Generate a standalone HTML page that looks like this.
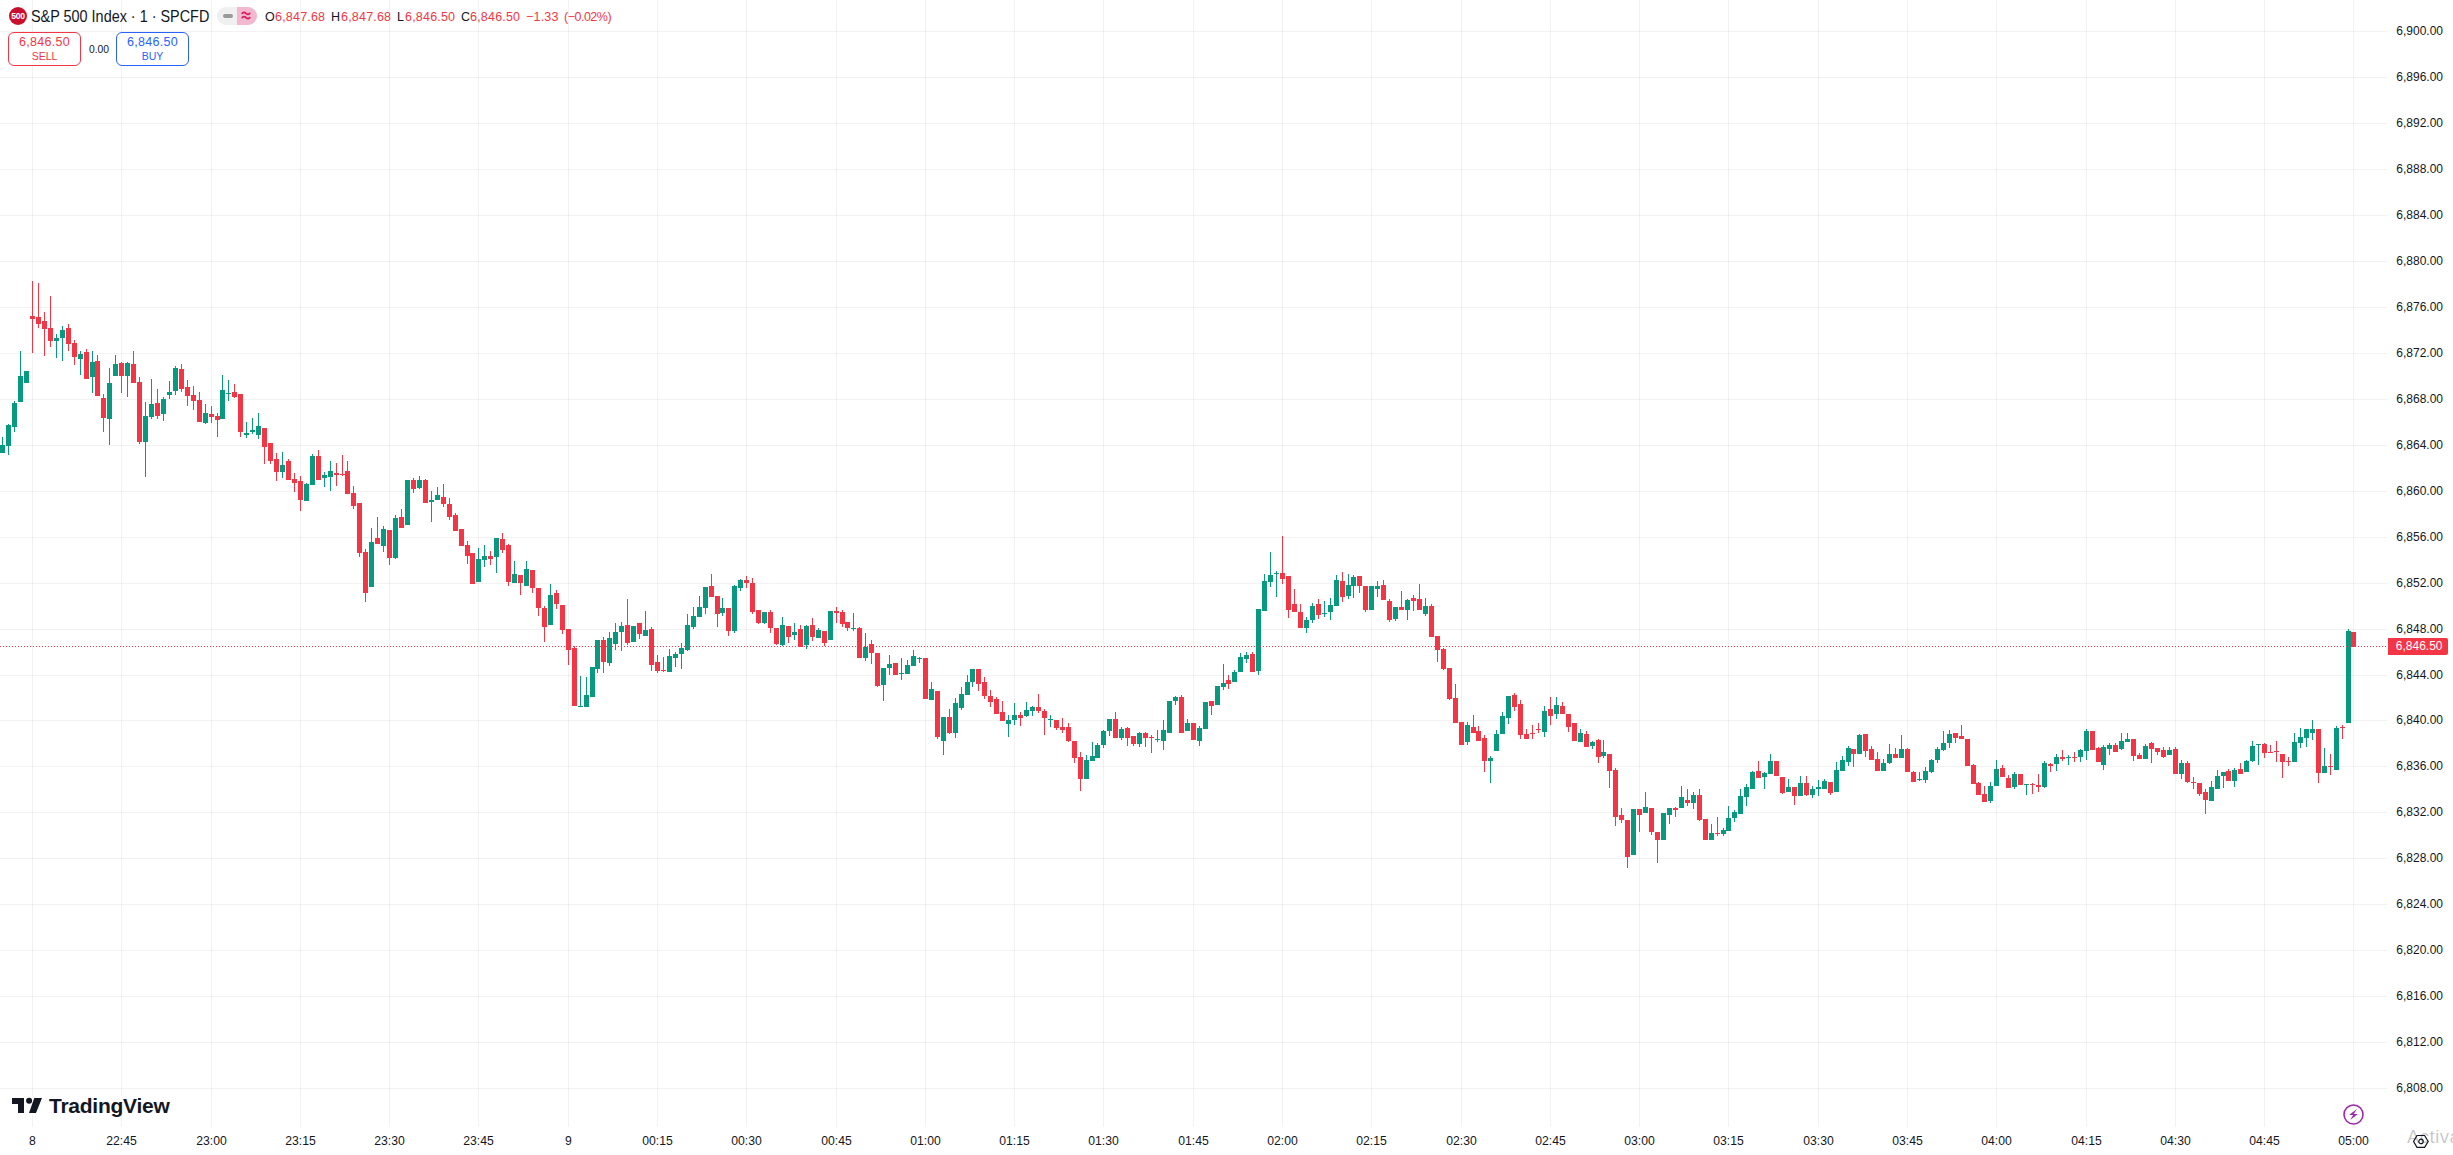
<!DOCTYPE html>
<html><head><meta charset="utf-8"><style>
html,body{margin:0;padding:0;background:#fff;width:2453px;height:1155px;overflow:hidden;position:relative;font-family:"Liberation Sans",sans-serif;color:#131722}
.pl{position:absolute;left:2381px;width:62px;text-align:right;font-size:12px;line-height:16px;color:#131722}
.tl{position:absolute;top:1133px;width:60px;text-align:center;font-size:12.2px;line-height:16px;color:#131722}
.hd{position:absolute;white-space:nowrap}
.oh{top:9px;font-size:12.5px;line-height:16px;color:#131722;letter-spacing:0.2px}
.r{color:#f23645}
</style></head><body>
<svg width="2453" height="1155" shape-rendering="crispEdges" style="position:absolute;left:0;top:0"><g fill="#000" fill-opacity="0.05"><rect x="0" y="31" width="2387" height="1"/><rect x="0" y="77" width="2387" height="1"/><rect x="0" y="123" width="2387" height="1"/><rect x="0" y="169" width="2387" height="1"/><rect x="0" y="215" width="2387" height="1"/><rect x="0" y="261" width="2387" height="1"/><rect x="0" y="307" width="2387" height="1"/><rect x="0" y="353" width="2387" height="1"/><rect x="0" y="399" width="2387" height="1"/><rect x="0" y="445" width="2387" height="1"/><rect x="0" y="491" width="2387" height="1"/><rect x="0" y="537" width="2387" height="1"/><rect x="0" y="583" width="2387" height="1"/><rect x="0" y="629" width="2387" height="1"/><rect x="0" y="675" width="2387" height="1"/><rect x="0" y="720" width="2387" height="1"/><rect x="0" y="766" width="2387" height="1"/><rect x="0" y="812" width="2387" height="1"/><rect x="0" y="858" width="2387" height="1"/><rect x="0" y="904" width="2387" height="1"/><rect x="0" y="950" width="2387" height="1"/><rect x="0" y="996" width="2387" height="1"/><rect x="0" y="1042" width="2387" height="1"/><rect x="0" y="1088" width="2387" height="1"/><rect x="32" y="0" width="1" height="1127"/><rect x="121" y="0" width="1" height="1127"/><rect x="211" y="0" width="1" height="1127"/><rect x="300" y="0" width="1" height="1127"/><rect x="389" y="0" width="1" height="1127"/><rect x="478" y="0" width="1" height="1127"/><rect x="568" y="0" width="1" height="1127"/><rect x="657" y="0" width="1" height="1127"/><rect x="746" y="0" width="1" height="1127"/><rect x="836" y="0" width="1" height="1127"/><rect x="925" y="0" width="1" height="1127"/><rect x="1014" y="0" width="1" height="1127"/><rect x="1103" y="0" width="1" height="1127"/><rect x="1193" y="0" width="1" height="1127"/><rect x="1282" y="0" width="1" height="1127"/><rect x="1371" y="0" width="1" height="1127"/><rect x="1461" y="0" width="1" height="1127"/><rect x="1550" y="0" width="1" height="1127"/><rect x="1639" y="0" width="1" height="1127"/><rect x="1728" y="0" width="1" height="1127"/><rect x="1818" y="0" width="1" height="1127"/><rect x="1907" y="0" width="1" height="1127"/><rect x="1996" y="0" width="1" height="1127"/><rect x="2086" y="0" width="1" height="1127"/><rect x="2175" y="0" width="1" height="1127"/><rect x="2264" y="0" width="1" height="1127"/><rect x="2353" y="0" width="1" height="1127"/></g><path fill="#089981" d="M0 445h5v8h-5zM2 437h1v16h-1zM6 425h5v21h-5zM8 424h1v31h-1zM12 403h5v24h-5zM14 401h1v31h-1zM18 376h5v26h-5zM20 351h1v51h-1zM24 371h5v12h-5zM54 338h5v3h-5zM56 334h1v24h-1zM60 330h5v8h-5zM62 326h1v35h-1zM78 354h5v5h-5zM80 351h1v24h-1zM90 362h5v15h-5zM92 351h1v42h-1zM107 383h5v36h-5zM109 368h1v77h-1zM113 364h5v12h-5zM115 355h1v21h-1zM125 363h5v13h-5zM127 362h1v35h-1zM143 416h5v26h-5zM145 402h1v75h-1zM149 404h5v13h-5zM151 379h1v40h-1zM161 399h5v15h-5zM163 397h1v24h-1zM167 392h5v3h-5zM169 381h1v18h-1zM173 368h5v23h-5zM175 366h1v29h-1zM203 413h5v10h-5zM205 404h1v20h-1zM220 390h5v29h-5zM222 375h1v44h-1zM226 393h5v1h-5zM228 380h1v21h-1zM244 433h5v2h-5zM246 422h1v16h-1zM250 430h5v2h-5zM252 418h1v16h-1zM256 426h5v9h-5zM258 413h1v26h-1zM280 465h5v7h-5zM282 452h1v26h-1zM304 484h5v17h-5zM306 483h1v18h-1zM310 456h5v29h-5zM312 454h1v31h-1zM322 475h5v3h-5zM324 472h1v15h-1zM328 471h5v6h-5zM330 461h1v30h-1zM369 542h5v45h-5zM371 528h1v59h-1zM381 529h5v17h-5zM383 526h1v26h-1zM393 518h5v40h-5zM395 515h1v44h-1zM405 480h5v45h-5zM417 480h5v8h-5zM419 476h1v13h-1zM429 500h5v2h-5zM431 491h1v31h-1zM435 495h5v5h-5zM437 487h1v13h-1zM476 559h5v23h-5zM478 548h1v34h-1zM482 556h5v4h-5zM484 545h1v22h-1zM494 538h5v19h-5zM496 538h1v35h-1zM512 574h5v9h-5zM514 561h1v22h-1zM524 569h5v17h-5zM526 561h1v25h-1zM548 595h5v30h-5zM550 584h1v41h-1zM578 706h5v1h-5zM580 676h1v31h-1zM584 695h5v12h-5zM586 677h1v30h-1zM590 667h5v30h-5zM595 640h5v29h-5zM597 640h1v33h-1zM607 638h5v25h-5zM609 632h1v34h-1zM613 632h5v12h-5zM615 623h1v27h-1zM619 626h5v6h-5zM621 622h1v29h-1zM631 626h5v16h-5zM643 630h5v6h-5zM645 611h1v25h-1zM667 656h5v16h-5zM669 649h1v23h-1zM673 654h5v4h-5zM675 652h1v15h-1zM679 648h5v6h-5zM681 643h1v26h-1zM685 625h5v25h-5zM687 614h1v37h-1zM691 616h5v11h-5zM693 607h1v22h-1zM697 607h5v10h-5zM699 596h1v21h-1zM703 587h5v21h-5zM705 587h1v27h-1zM720 608h5v5h-5zM722 598h1v18h-1zM732 586h5v45h-5zM734 585h1v48h-1zM738 580h5v8h-5zM740 579h1v12h-1zM762 612h5v11h-5zM764 612h1v12h-1zM780 625h5v20h-5zM782 617h1v29h-1zM792 632h5v3h-5zM794 623h1v17h-1zM804 626h5v19h-5zM806 625h1v24h-1zM816 630h5v8h-5zM818 628h1v10h-1zM828 611h5v29h-5zM851 628h5v1h-5zM853 613h1v18h-1zM863 647h5v11h-5zM865 633h1v28h-1zM881 668h5v17h-5zM883 668h1v33h-1zM887 664h5v4h-5zM889 655h1v20h-1zM899 673h5v1h-5zM901 658h1v22h-1zM905 665h5v9h-5zM907 660h1v14h-1zM911 656h5v10h-5zM913 650h1v16h-1zM917 658h5v1h-5zM919 657h1v6h-1zM929 689h5v11h-5zM931 682h1v18h-1zM941 717h5v24h-5zM943 717h1v38h-1zM953 703h5v30h-5zM955 698h1v40h-1zM959 694h5v14h-5zM961 687h1v23h-1zM965 682h5v13h-5zM967 675h1v20h-1zM970 669h5v13h-5zM972 669h1v18h-1zM1006 720h5v4h-5zM1008 715h1v22h-1zM1012 715h5v5h-5zM1014 703h1v22h-1zM1024 710h5v6h-5zM1026 702h1v15h-1zM1030 707h5v4h-5zM1032 706h1v10h-1zM1048 719h5v1h-5zM1050 715h1v12h-1zM1084 760h5v19h-5zM1086 755h1v24h-1zM1090 756h5v5h-5zM1092 742h1v19h-1zM1095 745h5v13h-5zM1097 743h1v15h-1zM1101 731h5v14h-5zM1103 730h1v18h-1zM1107 719h5v12h-5zM1109 719h1v17h-1zM1119 729h5v9h-5zM1121 727h1v13h-1zM1137 733h5v11h-5zM1139 732h1v15h-1zM1155 739h5v1h-5zM1157 730h1v12h-1zM1161 730h5v11h-5zM1163 720h1v30h-1zM1167 701h5v32h-5zM1173 697h5v4h-5zM1175 696h1v9h-1zM1185 723h5v8h-5zM1187 719h1v12h-1zM1197 728h5v13h-5zM1199 726h1v20h-1zM1203 702h5v27h-5zM1215 686h5v19h-5zM1221 683h5v4h-5zM1223 664h1v26h-1zM1232 672h5v10h-5zM1234 670h1v12h-1zM1238 657h5v15h-5zM1240 653h1v19h-1zM1244 655h5v4h-5zM1246 652h1v11h-1zM1256 609h5v62h-5zM1258 609h1v66h-1zM1262 581h5v30h-5zM1264 574h1v37h-1zM1268 575h5v7h-5zM1270 552h1v35h-1zM1274 573h5v1h-5zM1276 571h1v26h-1zM1304 620h5v8h-5zM1306 617h1v16h-1zM1310 606h5v14h-5zM1312 603h1v20h-1zM1322 613h5v1h-5zM1324 601h1v16h-1zM1328 605h5v7h-5zM1330 598h1v22h-1zM1334 580h5v26h-5zM1336 575h1v31h-1zM1346 585h5v11h-5zM1348 574h1v25h-1zM1351 577h5v9h-5zM1353 575h1v23h-1zM1369 586h5v24h-5zM1375 586h5v3h-5zM1377 581h1v16h-1zM1393 607h5v12h-5zM1395 607h1v14h-1zM1405 600h5v10h-5zM1407 599h1v21h-1zM1423 606h5v8h-5zM1425 598h1v18h-1zM1465 725h5v17h-5zM1467 722h1v23h-1zM1488 758h5v3h-5zM1490 756h1v27h-1zM1494 734h5v17h-5zM1496 730h1v21h-1zM1500 716h5v18h-5zM1502 712h1v22h-1zM1506 696h5v22h-5zM1508 696h1v28h-1zM1542 711h5v21h-5zM1544 706h1v31h-1zM1554 705h5v9h-5zM1556 697h1v22h-1zM1578 733h5v9h-5zM1580 729h1v13h-1zM1590 742h5v4h-5zM1592 741h1v8h-1zM1601 752h5v4h-5zM1603 740h1v18h-1zM1631 809h5v46h-5zM1643 807h5v6h-5zM1645 792h1v21h-1zM1661 813h5v27h-5zM1667 808h5v7h-5zM1669 808h1v16h-1zM1679 797h5v11h-5zM1681 786h1v22h-1zM1691 795h5v8h-5zM1693 792h1v17h-1zM1709 833h5v7h-5zM1711 824h1v16h-1zM1721 830h5v4h-5zM1723 828h1v8h-1zM1726 818h5v13h-5zM1728 806h1v25h-1zM1732 812h5v6h-5zM1734 810h1v12h-1zM1738 796h5v18h-5zM1740 789h1v25h-1zM1744 787h5v10h-5zM1746 784h1v22h-1zM1750 772h5v17h-5zM1752 771h1v18h-1zM1762 773h5v4h-5zM1764 772h1v17h-1zM1768 761h5v13h-5zM1770 754h1v20h-1zM1786 787h5v5h-5zM1788 779h1v13h-1zM1798 783h5v13h-5zM1800 776h1v20h-1zM1810 789h5v6h-5zM1812 786h1v12h-1zM1816 787h5v2h-5zM1818 780h1v16h-1zM1822 781h5v8h-5zM1824 779h1v10h-1zM1834 770h5v22h-5zM1836 762h1v30h-1zM1840 760h5v11h-5zM1842 756h1v15h-1zM1846 748h5v14h-5zM1848 746h1v20h-1zM1857 735h5v19h-5zM1859 734h1v20h-1zM1881 763h5v8h-5zM1883 759h1v12h-1zM1887 754h5v9h-5zM1889 744h1v20h-1zM1899 749h5v9h-5zM1901 735h1v23h-1zM1917 779h5v1h-5zM1919 772h1v9h-1zM1923 771h5v9h-5zM1925 767h1v16h-1zM1929 760h5v12h-5zM1931 759h1v14h-1zM1935 749h5v11h-5zM1937 747h1v16h-1zM1941 743h5v7h-5zM1943 731h1v20h-1zM1947 734h5v9h-5zM1949 730h1v18h-1zM1988 786h5v15h-5zM1990 782h1v21h-1zM1994 769h5v17h-5zM1996 760h1v26h-1zM2012 774h5v13h-5zM2014 772h1v17h-1zM2024 784h5v1h-5zM2026 784h1v11h-1zM2042 763h5v24h-5zM2044 761h1v27h-1zM2054 757h5v7h-5zM2056 754h1v17h-1zM2066 757h5v1h-5zM2068 755h1v10h-1zM2078 750h5v7h-5zM2080 749h1v13h-1zM2084 731h5v20h-5zM2086 729h1v31h-1zM2101 747h5v18h-5zM2103 745h1v25h-1zM2107 745h5v4h-5zM2109 743h1v12h-1zM2119 741h5v8h-5zM2121 733h1v17h-1zM2125 739h5v3h-5zM2127 733h1v9h-1zM2143 746h5v13h-5zM2145 744h1v15h-1zM2167 750h5v5h-5zM2169 747h1v8h-1zM2179 763h5v11h-5zM2181 760h1v19h-1zM2209 787h5v14h-5zM2211 781h1v20h-1zM2215 776h5v13h-5zM2217 770h1v19h-1zM2221 772h5v4h-5zM2223 772h1v16h-1zM2232 770h5v11h-5zM2234 768h1v19h-1zM2244 761h5v11h-5zM2246 760h1v12h-1zM2250 746h5v15h-5zM2252 741h1v21h-1zM2256 744h5v1h-5zM2258 744h1v21h-1zM2292 742h5v20h-5zM2294 733h1v29h-1zM2298 737h5v6h-5zM2300 728h1v20h-1zM2304 729h5v9h-5zM2306 729h1v18h-1zM2310 729h5v4h-5zM2312 720h1v20h-1zM2322 766h5v7h-5zM2324 748h1v25h-1zM2334 728h5v42h-5zM2336 726h1v44h-1zM2346 631h5v92h-5zM2348 629h1v94h-1z"/><path fill="#f23645" d="M30 316h5v3h-5zM32 281h1v72h-1zM36 317h5v7h-5zM38 283h1v45h-1zM42 321h5v8h-5zM44 312h1v44h-1zM48 328h5v13h-5zM50 296h1v51h-1zM66 328h5v16h-5zM68 324h1v27h-1zM72 343h5v14h-5zM74 340h1v25h-1zM84 352h5v27h-5zM86 349h1v30h-1zM95 361h5v35h-5zM97 355h1v41h-1zM101 398h5v20h-5zM103 394h1v38h-1zM119 363h5v13h-5zM121 362h1v31h-1zM131 364h5v19h-5zM133 351h1v32h-1zM137 382h5v60h-5zM139 377h1v67h-1zM155 403h5v13h-5zM157 389h1v30h-1zM179 369h5v20h-5zM181 364h1v28h-1zM185 387h5v9h-5zM187 380h1v26h-1zM191 395h5v6h-5zM193 386h1v24h-1zM197 400h5v22h-5zM199 392h1v30h-1zM209 414h5v3h-5zM211 406h1v17h-1zM215 416h5v4h-5zM217 413h1v24h-1zM232 392h5v5h-5zM234 384h1v14h-1zM238 394h5v38h-5zM240 394h1v43h-1zM262 428h5v19h-5zM264 428h1v36h-1zM268 443h5v18h-5zM270 443h1v21h-1zM274 459h5v13h-5zM276 453h1v28h-1zM286 461h5v19h-5zM288 459h1v21h-1zM292 479h5v4h-5zM294 473h1v19h-1zM298 481h5v19h-5zM300 476h1v35h-1zM316 456h5v24h-5zM318 450h1v30h-1zM334 473h5v2h-5zM336 463h1v23h-1zM340 474h5v1h-5zM342 455h1v21h-1zM345 471h5v23h-5zM347 461h1v33h-1zM351 493h5v13h-5zM353 486h1v23h-1zM357 503h5v50h-5zM359 503h1v54h-1zM363 552h5v41h-5zM365 549h1v53h-1zM375 538h5v6h-5zM377 517h1v27h-1zM387 530h5v28h-5zM389 530h1v35h-1zM399 517h5v11h-5zM401 509h1v19h-1zM411 480h5v9h-5zM413 478h1v15h-1zM423 480h5v23h-5zM425 479h1v24h-1zM441 497h5v7h-5zM443 484h1v23h-1zM447 504h5v13h-5zM449 498h1v22h-1zM453 515h5v16h-5zM455 513h1v18h-1zM459 529h5v17h-5zM465 545h5v11h-5zM467 541h1v23h-1zM470 553h5v31h-5zM488 556h5v3h-5zM490 551h1v14h-1zM500 539h5v11h-5zM502 533h1v20h-1zM506 545h5v37h-5zM508 544h1v42h-1zM518 575h5v8h-5zM520 575h1v20h-1zM530 570h5v18h-5zM532 570h1v23h-1zM536 588h5v20h-5zM538 588h1v28h-1zM542 608h5v19h-5zM544 606h1v36h-1zM554 593h5v11h-5zM556 590h1v19h-1zM560 605h5v25h-5zM562 605h1v29h-1zM566 629h5v21h-5zM568 629h1v36h-1zM572 648h5v58h-5zM574 646h1v60h-1zM601 640h5v22h-5zM603 637h1v36h-1zM625 625h5v18h-5zM627 599h1v46h-1zM637 623h5v11h-5zM639 623h1v16h-1zM649 629h5v36h-5zM651 627h1v44h-1zM655 662h5v9h-5zM657 655h1v18h-1zM661 670h5v1h-5zM663 657h1v15h-1zM709 586h5v11h-5zM711 574h1v23h-1zM715 596h5v18h-5zM717 596h1v31h-1zM726 608h5v23h-5zM728 608h1v28h-1zM744 580h5v3h-5zM746 576h1v12h-1zM750 583h5v29h-5zM752 578h1v36h-1zM756 610h5v13h-5zM758 610h1v14h-1zM768 612h5v16h-5zM770 610h1v23h-1zM774 628h5v16h-5zM776 628h1v17h-1zM786 626h5v11h-5zM788 626h1v17h-1zM798 629h5v18h-5zM800 625h1v22h-1zM810 625h5v12h-5zM812 618h1v23h-1zM822 631h5v12h-5zM824 631h1v15h-1zM834 611h5v2h-5zM836 607h1v16h-1zM840 612h5v12h-5zM842 610h1v17h-1zM845 622h5v6h-5zM847 622h1v9h-1zM857 628h5v30h-5zM859 627h1v31h-1zM869 644h5v9h-5zM871 640h1v24h-1zM875 653h5v33h-5zM877 653h1v34h-1zM893 663h5v12h-5zM923 658h5v41h-5zM935 691h5v46h-5zM937 691h1v48h-1zM947 717h5v16h-5zM949 709h1v25h-1zM976 669h5v15h-5zM978 669h1v22h-1zM982 682h5v14h-5zM984 677h1v22h-1zM988 696h5v6h-5zM990 690h1v17h-1zM994 699h5v15h-5zM996 697h1v17h-1zM1000 712h5v9h-5zM1002 701h1v20h-1zM1018 715h5v3h-5zM1020 712h1v14h-1zM1036 707h5v4h-5zM1038 694h1v19h-1zM1042 711h5v7h-5zM1044 709h1v26h-1zM1054 720h5v8h-5zM1056 720h1v10h-1zM1060 727h5v3h-5zM1062 718h1v15h-1zM1066 727h5v14h-5zM1068 723h1v19h-1zM1072 741h5v17h-5zM1074 741h1v22h-1zM1078 757h5v22h-5zM1080 752h1v39h-1zM1113 719h5v19h-5zM1115 712h1v26h-1zM1125 728h5v10h-5zM1127 727h1v19h-1zM1131 736h5v8h-5zM1133 736h1v10h-1zM1143 733h5v5h-5zM1145 732h1v15h-1zM1149 737h5v1h-5zM1151 735h1v18h-1zM1179 697h5v36h-5zM1181 695h1v38h-1zM1191 723h5v17h-5zM1209 701h5v5h-5zM1211 701h1v14h-1zM1226 680h5v4h-5zM1228 675h1v14h-1zM1250 654h5v18h-5zM1252 652h1v20h-1zM1280 573h5v6h-5zM1282 536h1v48h-1zM1286 576h5v34h-5zM1288 576h1v42h-1zM1292 604h5v8h-5zM1294 589h1v23h-1zM1298 612h5v16h-5zM1300 604h1v24h-1zM1316 604h5v11h-5zM1318 599h1v20h-1zM1340 581h5v16h-5zM1342 572h1v30h-1zM1357 576h5v10h-5zM1359 576h1v17h-1zM1363 586h5v24h-5zM1365 586h1v26h-1zM1381 585h5v15h-5zM1383 580h1v20h-1zM1387 601h5v19h-5zM1389 599h1v23h-1zM1399 607h5v3h-5zM1401 591h1v19h-1zM1411 598h5v3h-5zM1413 595h1v16h-1zM1417 599h5v11h-5zM1419 584h1v26h-1zM1429 606h5v31h-5zM1431 604h1v33h-1zM1435 636h5v14h-5zM1437 636h1v26h-1zM1441 649h5v20h-5zM1443 648h1v22h-1zM1447 668h5v31h-5zM1449 668h1v32h-1zM1453 698h5v25h-5zM1455 684h1v39h-1zM1459 722h5v23h-5zM1471 727h5v6h-5zM1473 715h1v18h-1zM1476 731h5v10h-5zM1478 726h1v15h-1zM1482 738h5v23h-5zM1484 735h1v37h-1zM1512 695h5v12h-5zM1514 693h1v18h-1zM1518 704h5v31h-5zM1520 700h1v39h-1zM1524 734h5v5h-5zM1526 729h1v10h-1zM1530 733h5v1h-5zM1532 725h1v14h-1zM1536 729h5v1h-5zM1538 723h1v10h-1zM1548 709h5v7h-5zM1550 697h1v28h-1zM1560 706h5v8h-5zM1562 702h1v12h-1zM1566 714h5v13h-5zM1568 714h1v18h-1zM1572 723h5v18h-5zM1584 734h5v13h-5zM1586 731h1v16h-1zM1596 740h5v17h-5zM1598 739h1v24h-1zM1607 754h5v17h-5zM1609 754h1v34h-1zM1613 770h5v47h-5zM1615 768h1v58h-1zM1619 815h5v5h-5zM1621 808h1v15h-1zM1625 820h5v37h-5zM1627 820h1v48h-1zM1637 809h5v6h-5zM1639 809h1v23h-1zM1649 808h5v24h-5zM1651 808h1v27h-1zM1655 832h5v8h-5zM1657 832h1v31h-1zM1673 808h5v2h-5zM1675 807h1v10h-1zM1685 800h5v3h-5zM1687 789h1v17h-1zM1697 795h5v25h-5zM1699 789h1v32h-1zM1703 819h5v21h-5zM1715 833h5v1h-5zM1717 817h1v19h-1zM1756 771h5v7h-5zM1758 761h1v17h-1zM1774 761h5v15h-5zM1780 777h5v16h-5zM1782 777h1v17h-1zM1792 787h5v9h-5zM1794 787h1v18h-1zM1804 783h5v12h-5zM1806 776h1v20h-1zM1828 782h5v11h-5zM1830 782h1v13h-1zM1851 749h5v5h-5zM1853 749h1v18h-1zM1863 734h5v17h-5zM1865 734h1v23h-1zM1869 749h5v11h-5zM1871 746h1v14h-1zM1875 759h5v12h-5zM1877 752h1v19h-1zM1893 754h5v4h-5zM1895 748h1v10h-1zM1905 749h5v23h-5zM1907 748h1v24h-1zM1911 772h5v10h-5zM1913 771h1v11h-1zM1953 733h5v5h-5zM1955 733h1v10h-1zM1959 736h5v3h-5zM1961 725h1v14h-1zM1965 739h5v27h-5zM1971 765h5v19h-5zM1973 764h1v20h-1zM1976 783h5v12h-5zM1978 782h1v13h-1zM1982 794h5v8h-5zM1984 786h1v16h-1zM2000 768h5v9h-5zM2002 765h1v12h-1zM2006 778h5v10h-5zM2008 775h1v13h-1zM2018 774h5v11h-5zM2030 784h5v1h-5zM2032 783h1v11h-1zM2036 785h5v2h-5zM2038 774h1v18h-1zM2048 764h5v2h-5zM2050 763h1v9h-1zM2060 757h5v2h-5zM2062 750h1v11h-1zM2072 757h5v1h-5zM2074 752h1v10h-1zM2090 731h5v19h-5zM2096 748h5v14h-5zM2098 747h1v15h-1zM2113 745h5v7h-5zM2115 743h1v9h-1zM2131 739h5v17h-5zM2133 739h1v22h-1zM2137 755h5v4h-5zM2139 753h1v6h-1zM2149 743h5v6h-5zM2151 742h1v21h-1zM2155 748h5v4h-5zM2157 748h1v7h-1zM2161 750h5v7h-5zM2163 747h1v11h-1zM2173 749h5v25h-5zM2175 747h1v27h-1zM2185 763h5v19h-5zM2187 761h1v22h-1zM2191 782h5v1h-5zM2193 777h1v12h-1zM2197 783h5v11h-5zM2199 783h1v13h-1zM2203 792h5v8h-5zM2205 789h1v25h-1zM2226 771h5v10h-5zM2228 769h1v12h-1zM2238 769h5v5h-5zM2240 763h1v11h-1zM2262 744h5v9h-5zM2264 743h1v15h-1zM2268 752h5v1h-5zM2270 745h1v8h-1zM2274 751h5v1h-5zM2276 741h1v21h-1zM2280 754h5v8h-5zM2282 754h1v24h-1zM2286 761h5v1h-5zM2288 757h1v9h-1zM2316 729h5v44h-5zM2318 729h1v54h-1zM2328 766h5v1h-5zM2330 754h1v21h-1zM2340 727h5v1h-5zM2342 725h1v14h-1zM2351 632h5v15h-5z"/><path fill="#f23645" d="M0 646h1v1h-1zM3 646h1v1h-1zM6 646h1v1h-1zM9 646h1v1h-1zM12 646h1v1h-1zM15 646h1v1h-1zM18 646h1v1h-1zM21 646h1v1h-1zM24 646h1v1h-1zM27 646h1v1h-1zM30 646h1v1h-1zM33 646h1v1h-1zM36 646h1v1h-1zM39 646h1v1h-1zM42 646h1v1h-1zM45 646h1v1h-1zM48 646h1v1h-1zM51 646h1v1h-1zM54 646h1v1h-1zM57 646h1v1h-1zM60 646h1v1h-1zM63 646h1v1h-1zM66 646h1v1h-1zM69 646h1v1h-1zM72 646h1v1h-1zM75 646h1v1h-1zM78 646h1v1h-1zM81 646h1v1h-1zM84 646h1v1h-1zM87 646h1v1h-1zM90 646h1v1h-1zM93 646h1v1h-1zM96 646h1v1h-1zM99 646h1v1h-1zM102 646h1v1h-1zM105 646h1v1h-1zM108 646h1v1h-1zM111 646h1v1h-1zM114 646h1v1h-1zM117 646h1v1h-1zM120 646h1v1h-1zM123 646h1v1h-1zM126 646h1v1h-1zM129 646h1v1h-1zM132 646h1v1h-1zM135 646h1v1h-1zM138 646h1v1h-1zM141 646h1v1h-1zM144 646h1v1h-1zM147 646h1v1h-1zM150 646h1v1h-1zM153 646h1v1h-1zM156 646h1v1h-1zM159 646h1v1h-1zM162 646h1v1h-1zM165 646h1v1h-1zM168 646h1v1h-1zM171 646h1v1h-1zM174 646h1v1h-1zM177 646h1v1h-1zM180 646h1v1h-1zM183 646h1v1h-1zM186 646h1v1h-1zM189 646h1v1h-1zM192 646h1v1h-1zM195 646h1v1h-1zM198 646h1v1h-1zM201 646h1v1h-1zM204 646h1v1h-1zM207 646h1v1h-1zM210 646h1v1h-1zM213 646h1v1h-1zM216 646h1v1h-1zM219 646h1v1h-1zM222 646h1v1h-1zM225 646h1v1h-1zM228 646h1v1h-1zM231 646h1v1h-1zM234 646h1v1h-1zM237 646h1v1h-1zM240 646h1v1h-1zM243 646h1v1h-1zM246 646h1v1h-1zM249 646h1v1h-1zM252 646h1v1h-1zM255 646h1v1h-1zM258 646h1v1h-1zM261 646h1v1h-1zM264 646h1v1h-1zM267 646h1v1h-1zM270 646h1v1h-1zM273 646h1v1h-1zM276 646h1v1h-1zM279 646h1v1h-1zM282 646h1v1h-1zM285 646h1v1h-1zM288 646h1v1h-1zM291 646h1v1h-1zM294 646h1v1h-1zM297 646h1v1h-1zM300 646h1v1h-1zM303 646h1v1h-1zM306 646h1v1h-1zM309 646h1v1h-1zM312 646h1v1h-1zM315 646h1v1h-1zM318 646h1v1h-1zM321 646h1v1h-1zM324 646h1v1h-1zM327 646h1v1h-1zM330 646h1v1h-1zM333 646h1v1h-1zM336 646h1v1h-1zM339 646h1v1h-1zM342 646h1v1h-1zM345 646h1v1h-1zM348 646h1v1h-1zM351 646h1v1h-1zM354 646h1v1h-1zM357 646h1v1h-1zM360 646h1v1h-1zM363 646h1v1h-1zM366 646h1v1h-1zM369 646h1v1h-1zM372 646h1v1h-1zM375 646h1v1h-1zM378 646h1v1h-1zM381 646h1v1h-1zM384 646h1v1h-1zM387 646h1v1h-1zM390 646h1v1h-1zM393 646h1v1h-1zM396 646h1v1h-1zM399 646h1v1h-1zM402 646h1v1h-1zM405 646h1v1h-1zM408 646h1v1h-1zM411 646h1v1h-1zM414 646h1v1h-1zM417 646h1v1h-1zM420 646h1v1h-1zM423 646h1v1h-1zM426 646h1v1h-1zM429 646h1v1h-1zM432 646h1v1h-1zM435 646h1v1h-1zM438 646h1v1h-1zM441 646h1v1h-1zM444 646h1v1h-1zM447 646h1v1h-1zM450 646h1v1h-1zM453 646h1v1h-1zM456 646h1v1h-1zM459 646h1v1h-1zM462 646h1v1h-1zM465 646h1v1h-1zM468 646h1v1h-1zM471 646h1v1h-1zM474 646h1v1h-1zM477 646h1v1h-1zM480 646h1v1h-1zM483 646h1v1h-1zM486 646h1v1h-1zM489 646h1v1h-1zM492 646h1v1h-1zM495 646h1v1h-1zM498 646h1v1h-1zM501 646h1v1h-1zM504 646h1v1h-1zM507 646h1v1h-1zM510 646h1v1h-1zM513 646h1v1h-1zM516 646h1v1h-1zM519 646h1v1h-1zM522 646h1v1h-1zM525 646h1v1h-1zM528 646h1v1h-1zM531 646h1v1h-1zM534 646h1v1h-1zM537 646h1v1h-1zM540 646h1v1h-1zM543 646h1v1h-1zM546 646h1v1h-1zM549 646h1v1h-1zM552 646h1v1h-1zM555 646h1v1h-1zM558 646h1v1h-1zM561 646h1v1h-1zM564 646h1v1h-1zM567 646h1v1h-1zM570 646h1v1h-1zM573 646h1v1h-1zM576 646h1v1h-1zM579 646h1v1h-1zM582 646h1v1h-1zM585 646h1v1h-1zM588 646h1v1h-1zM591 646h1v1h-1zM594 646h1v1h-1zM597 646h1v1h-1zM600 646h1v1h-1zM603 646h1v1h-1zM606 646h1v1h-1zM609 646h1v1h-1zM612 646h1v1h-1zM615 646h1v1h-1zM618 646h1v1h-1zM621 646h1v1h-1zM624 646h1v1h-1zM627 646h1v1h-1zM630 646h1v1h-1zM633 646h1v1h-1zM636 646h1v1h-1zM639 646h1v1h-1zM642 646h1v1h-1zM645 646h1v1h-1zM648 646h1v1h-1zM651 646h1v1h-1zM654 646h1v1h-1zM657 646h1v1h-1zM660 646h1v1h-1zM663 646h1v1h-1zM666 646h1v1h-1zM669 646h1v1h-1zM672 646h1v1h-1zM675 646h1v1h-1zM678 646h1v1h-1zM681 646h1v1h-1zM684 646h1v1h-1zM687 646h1v1h-1zM690 646h1v1h-1zM693 646h1v1h-1zM696 646h1v1h-1zM699 646h1v1h-1zM702 646h1v1h-1zM705 646h1v1h-1zM708 646h1v1h-1zM711 646h1v1h-1zM714 646h1v1h-1zM717 646h1v1h-1zM720 646h1v1h-1zM723 646h1v1h-1zM726 646h1v1h-1zM729 646h1v1h-1zM732 646h1v1h-1zM735 646h1v1h-1zM738 646h1v1h-1zM741 646h1v1h-1zM744 646h1v1h-1zM747 646h1v1h-1zM750 646h1v1h-1zM753 646h1v1h-1zM756 646h1v1h-1zM759 646h1v1h-1zM762 646h1v1h-1zM765 646h1v1h-1zM768 646h1v1h-1zM771 646h1v1h-1zM774 646h1v1h-1zM777 646h1v1h-1zM780 646h1v1h-1zM783 646h1v1h-1zM786 646h1v1h-1zM789 646h1v1h-1zM792 646h1v1h-1zM795 646h1v1h-1zM798 646h1v1h-1zM801 646h1v1h-1zM804 646h1v1h-1zM807 646h1v1h-1zM810 646h1v1h-1zM813 646h1v1h-1zM816 646h1v1h-1zM819 646h1v1h-1zM822 646h1v1h-1zM825 646h1v1h-1zM828 646h1v1h-1zM831 646h1v1h-1zM834 646h1v1h-1zM837 646h1v1h-1zM840 646h1v1h-1zM843 646h1v1h-1zM846 646h1v1h-1zM849 646h1v1h-1zM852 646h1v1h-1zM855 646h1v1h-1zM858 646h1v1h-1zM861 646h1v1h-1zM864 646h1v1h-1zM867 646h1v1h-1zM870 646h1v1h-1zM873 646h1v1h-1zM876 646h1v1h-1zM879 646h1v1h-1zM882 646h1v1h-1zM885 646h1v1h-1zM888 646h1v1h-1zM891 646h1v1h-1zM894 646h1v1h-1zM897 646h1v1h-1zM900 646h1v1h-1zM903 646h1v1h-1zM906 646h1v1h-1zM909 646h1v1h-1zM912 646h1v1h-1zM915 646h1v1h-1zM918 646h1v1h-1zM921 646h1v1h-1zM924 646h1v1h-1zM927 646h1v1h-1zM930 646h1v1h-1zM933 646h1v1h-1zM936 646h1v1h-1zM939 646h1v1h-1zM942 646h1v1h-1zM945 646h1v1h-1zM948 646h1v1h-1zM951 646h1v1h-1zM954 646h1v1h-1zM957 646h1v1h-1zM960 646h1v1h-1zM963 646h1v1h-1zM966 646h1v1h-1zM969 646h1v1h-1zM972 646h1v1h-1zM975 646h1v1h-1zM978 646h1v1h-1zM981 646h1v1h-1zM984 646h1v1h-1zM987 646h1v1h-1zM990 646h1v1h-1zM993 646h1v1h-1zM996 646h1v1h-1zM999 646h1v1h-1zM1002 646h1v1h-1zM1005 646h1v1h-1zM1008 646h1v1h-1zM1011 646h1v1h-1zM1014 646h1v1h-1zM1017 646h1v1h-1zM1020 646h1v1h-1zM1023 646h1v1h-1zM1026 646h1v1h-1zM1029 646h1v1h-1zM1032 646h1v1h-1zM1035 646h1v1h-1zM1038 646h1v1h-1zM1041 646h1v1h-1zM1044 646h1v1h-1zM1047 646h1v1h-1zM1050 646h1v1h-1zM1053 646h1v1h-1zM1056 646h1v1h-1zM1059 646h1v1h-1zM1062 646h1v1h-1zM1065 646h1v1h-1zM1068 646h1v1h-1zM1071 646h1v1h-1zM1074 646h1v1h-1zM1077 646h1v1h-1zM1080 646h1v1h-1zM1083 646h1v1h-1zM1086 646h1v1h-1zM1089 646h1v1h-1zM1092 646h1v1h-1zM1095 646h1v1h-1zM1098 646h1v1h-1zM1101 646h1v1h-1zM1104 646h1v1h-1zM1107 646h1v1h-1zM1110 646h1v1h-1zM1113 646h1v1h-1zM1116 646h1v1h-1zM1119 646h1v1h-1zM1122 646h1v1h-1zM1125 646h1v1h-1zM1128 646h1v1h-1zM1131 646h1v1h-1zM1134 646h1v1h-1zM1137 646h1v1h-1zM1140 646h1v1h-1zM1143 646h1v1h-1zM1146 646h1v1h-1zM1149 646h1v1h-1zM1152 646h1v1h-1zM1155 646h1v1h-1zM1158 646h1v1h-1zM1161 646h1v1h-1zM1164 646h1v1h-1zM1167 646h1v1h-1zM1170 646h1v1h-1zM1173 646h1v1h-1zM1176 646h1v1h-1zM1179 646h1v1h-1zM1182 646h1v1h-1zM1185 646h1v1h-1zM1188 646h1v1h-1zM1191 646h1v1h-1zM1194 646h1v1h-1zM1197 646h1v1h-1zM1200 646h1v1h-1zM1203 646h1v1h-1zM1206 646h1v1h-1zM1209 646h1v1h-1zM1212 646h1v1h-1zM1215 646h1v1h-1zM1218 646h1v1h-1zM1221 646h1v1h-1zM1224 646h1v1h-1zM1227 646h1v1h-1zM1230 646h1v1h-1zM1233 646h1v1h-1zM1236 646h1v1h-1zM1239 646h1v1h-1zM1242 646h1v1h-1zM1245 646h1v1h-1zM1248 646h1v1h-1zM1251 646h1v1h-1zM1254 646h1v1h-1zM1257 646h1v1h-1zM1260 646h1v1h-1zM1263 646h1v1h-1zM1266 646h1v1h-1zM1269 646h1v1h-1zM1272 646h1v1h-1zM1275 646h1v1h-1zM1278 646h1v1h-1zM1281 646h1v1h-1zM1284 646h1v1h-1zM1287 646h1v1h-1zM1290 646h1v1h-1zM1293 646h1v1h-1zM1296 646h1v1h-1zM1299 646h1v1h-1zM1302 646h1v1h-1zM1305 646h1v1h-1zM1308 646h1v1h-1zM1311 646h1v1h-1zM1314 646h1v1h-1zM1317 646h1v1h-1zM1320 646h1v1h-1zM1323 646h1v1h-1zM1326 646h1v1h-1zM1329 646h1v1h-1zM1332 646h1v1h-1zM1335 646h1v1h-1zM1338 646h1v1h-1zM1341 646h1v1h-1zM1344 646h1v1h-1zM1347 646h1v1h-1zM1350 646h1v1h-1zM1353 646h1v1h-1zM1356 646h1v1h-1zM1359 646h1v1h-1zM1362 646h1v1h-1zM1365 646h1v1h-1zM1368 646h1v1h-1zM1371 646h1v1h-1zM1374 646h1v1h-1zM1377 646h1v1h-1zM1380 646h1v1h-1zM1383 646h1v1h-1zM1386 646h1v1h-1zM1389 646h1v1h-1zM1392 646h1v1h-1zM1395 646h1v1h-1zM1398 646h1v1h-1zM1401 646h1v1h-1zM1404 646h1v1h-1zM1407 646h1v1h-1zM1410 646h1v1h-1zM1413 646h1v1h-1zM1416 646h1v1h-1zM1419 646h1v1h-1zM1422 646h1v1h-1zM1425 646h1v1h-1zM1428 646h1v1h-1zM1431 646h1v1h-1zM1434 646h1v1h-1zM1437 646h1v1h-1zM1440 646h1v1h-1zM1443 646h1v1h-1zM1446 646h1v1h-1zM1449 646h1v1h-1zM1452 646h1v1h-1zM1455 646h1v1h-1zM1458 646h1v1h-1zM1461 646h1v1h-1zM1464 646h1v1h-1zM1467 646h1v1h-1zM1470 646h1v1h-1zM1473 646h1v1h-1zM1476 646h1v1h-1zM1479 646h1v1h-1zM1482 646h1v1h-1zM1485 646h1v1h-1zM1488 646h1v1h-1zM1491 646h1v1h-1zM1494 646h1v1h-1zM1497 646h1v1h-1zM1500 646h1v1h-1zM1503 646h1v1h-1zM1506 646h1v1h-1zM1509 646h1v1h-1zM1512 646h1v1h-1zM1515 646h1v1h-1zM1518 646h1v1h-1zM1521 646h1v1h-1zM1524 646h1v1h-1zM1527 646h1v1h-1zM1530 646h1v1h-1zM1533 646h1v1h-1zM1536 646h1v1h-1zM1539 646h1v1h-1zM1542 646h1v1h-1zM1545 646h1v1h-1zM1548 646h1v1h-1zM1551 646h1v1h-1zM1554 646h1v1h-1zM1557 646h1v1h-1zM1560 646h1v1h-1zM1563 646h1v1h-1zM1566 646h1v1h-1zM1569 646h1v1h-1zM1572 646h1v1h-1zM1575 646h1v1h-1zM1578 646h1v1h-1zM1581 646h1v1h-1zM1584 646h1v1h-1zM1587 646h1v1h-1zM1590 646h1v1h-1zM1593 646h1v1h-1zM1596 646h1v1h-1zM1599 646h1v1h-1zM1602 646h1v1h-1zM1605 646h1v1h-1zM1608 646h1v1h-1zM1611 646h1v1h-1zM1614 646h1v1h-1zM1617 646h1v1h-1zM1620 646h1v1h-1zM1623 646h1v1h-1zM1626 646h1v1h-1zM1629 646h1v1h-1zM1632 646h1v1h-1zM1635 646h1v1h-1zM1638 646h1v1h-1zM1641 646h1v1h-1zM1644 646h1v1h-1zM1647 646h1v1h-1zM1650 646h1v1h-1zM1653 646h1v1h-1zM1656 646h1v1h-1zM1659 646h1v1h-1zM1662 646h1v1h-1zM1665 646h1v1h-1zM1668 646h1v1h-1zM1671 646h1v1h-1zM1674 646h1v1h-1zM1677 646h1v1h-1zM1680 646h1v1h-1zM1683 646h1v1h-1zM1686 646h1v1h-1zM1689 646h1v1h-1zM1692 646h1v1h-1zM1695 646h1v1h-1zM1698 646h1v1h-1zM1701 646h1v1h-1zM1704 646h1v1h-1zM1707 646h1v1h-1zM1710 646h1v1h-1zM1713 646h1v1h-1zM1716 646h1v1h-1zM1719 646h1v1h-1zM1722 646h1v1h-1zM1725 646h1v1h-1zM1728 646h1v1h-1zM1731 646h1v1h-1zM1734 646h1v1h-1zM1737 646h1v1h-1zM1740 646h1v1h-1zM1743 646h1v1h-1zM1746 646h1v1h-1zM1749 646h1v1h-1zM1752 646h1v1h-1zM1755 646h1v1h-1zM1758 646h1v1h-1zM1761 646h1v1h-1zM1764 646h1v1h-1zM1767 646h1v1h-1zM1770 646h1v1h-1zM1773 646h1v1h-1zM1776 646h1v1h-1zM1779 646h1v1h-1zM1782 646h1v1h-1zM1785 646h1v1h-1zM1788 646h1v1h-1zM1791 646h1v1h-1zM1794 646h1v1h-1zM1797 646h1v1h-1zM1800 646h1v1h-1zM1803 646h1v1h-1zM1806 646h1v1h-1zM1809 646h1v1h-1zM1812 646h1v1h-1zM1815 646h1v1h-1zM1818 646h1v1h-1zM1821 646h1v1h-1zM1824 646h1v1h-1zM1827 646h1v1h-1zM1830 646h1v1h-1zM1833 646h1v1h-1zM1836 646h1v1h-1zM1839 646h1v1h-1zM1842 646h1v1h-1zM1845 646h1v1h-1zM1848 646h1v1h-1zM1851 646h1v1h-1zM1854 646h1v1h-1zM1857 646h1v1h-1zM1860 646h1v1h-1zM1863 646h1v1h-1zM1866 646h1v1h-1zM1869 646h1v1h-1zM1872 646h1v1h-1zM1875 646h1v1h-1zM1878 646h1v1h-1zM1881 646h1v1h-1zM1884 646h1v1h-1zM1887 646h1v1h-1zM1890 646h1v1h-1zM1893 646h1v1h-1zM1896 646h1v1h-1zM1899 646h1v1h-1zM1902 646h1v1h-1zM1905 646h1v1h-1zM1908 646h1v1h-1zM1911 646h1v1h-1zM1914 646h1v1h-1zM1917 646h1v1h-1zM1920 646h1v1h-1zM1923 646h1v1h-1zM1926 646h1v1h-1zM1929 646h1v1h-1zM1932 646h1v1h-1zM1935 646h1v1h-1zM1938 646h1v1h-1zM1941 646h1v1h-1zM1944 646h1v1h-1zM1947 646h1v1h-1zM1950 646h1v1h-1zM1953 646h1v1h-1zM1956 646h1v1h-1zM1959 646h1v1h-1zM1962 646h1v1h-1zM1965 646h1v1h-1zM1968 646h1v1h-1zM1971 646h1v1h-1zM1974 646h1v1h-1zM1977 646h1v1h-1zM1980 646h1v1h-1zM1983 646h1v1h-1zM1986 646h1v1h-1zM1989 646h1v1h-1zM1992 646h1v1h-1zM1995 646h1v1h-1zM1998 646h1v1h-1zM2001 646h1v1h-1zM2004 646h1v1h-1zM2007 646h1v1h-1zM2010 646h1v1h-1zM2013 646h1v1h-1zM2016 646h1v1h-1zM2019 646h1v1h-1zM2022 646h1v1h-1zM2025 646h1v1h-1zM2028 646h1v1h-1zM2031 646h1v1h-1zM2034 646h1v1h-1zM2037 646h1v1h-1zM2040 646h1v1h-1zM2043 646h1v1h-1zM2046 646h1v1h-1zM2049 646h1v1h-1zM2052 646h1v1h-1zM2055 646h1v1h-1zM2058 646h1v1h-1zM2061 646h1v1h-1zM2064 646h1v1h-1zM2067 646h1v1h-1zM2070 646h1v1h-1zM2073 646h1v1h-1zM2076 646h1v1h-1zM2079 646h1v1h-1zM2082 646h1v1h-1zM2085 646h1v1h-1zM2088 646h1v1h-1zM2091 646h1v1h-1zM2094 646h1v1h-1zM2097 646h1v1h-1zM2100 646h1v1h-1zM2103 646h1v1h-1zM2106 646h1v1h-1zM2109 646h1v1h-1zM2112 646h1v1h-1zM2115 646h1v1h-1zM2118 646h1v1h-1zM2121 646h1v1h-1zM2124 646h1v1h-1zM2127 646h1v1h-1zM2130 646h1v1h-1zM2133 646h1v1h-1zM2136 646h1v1h-1zM2139 646h1v1h-1zM2142 646h1v1h-1zM2145 646h1v1h-1zM2148 646h1v1h-1zM2151 646h1v1h-1zM2154 646h1v1h-1zM2157 646h1v1h-1zM2160 646h1v1h-1zM2163 646h1v1h-1zM2166 646h1v1h-1zM2169 646h1v1h-1zM2172 646h1v1h-1zM2175 646h1v1h-1zM2178 646h1v1h-1zM2181 646h1v1h-1zM2184 646h1v1h-1zM2187 646h1v1h-1zM2190 646h1v1h-1zM2193 646h1v1h-1zM2196 646h1v1h-1zM2199 646h1v1h-1zM2202 646h1v1h-1zM2205 646h1v1h-1zM2208 646h1v1h-1zM2211 646h1v1h-1zM2214 646h1v1h-1zM2217 646h1v1h-1zM2220 646h1v1h-1zM2223 646h1v1h-1zM2226 646h1v1h-1zM2229 646h1v1h-1zM2232 646h1v1h-1zM2235 646h1v1h-1zM2238 646h1v1h-1zM2241 646h1v1h-1zM2244 646h1v1h-1zM2247 646h1v1h-1zM2250 646h1v1h-1zM2253 646h1v1h-1zM2256 646h1v1h-1zM2259 646h1v1h-1zM2262 646h1v1h-1zM2265 646h1v1h-1zM2268 646h1v1h-1zM2271 646h1v1h-1zM2274 646h1v1h-1zM2277 646h1v1h-1zM2280 646h1v1h-1zM2283 646h1v1h-1zM2286 646h1v1h-1zM2289 646h1v1h-1zM2292 646h1v1h-1zM2295 646h1v1h-1zM2298 646h1v1h-1zM2301 646h1v1h-1zM2304 646h1v1h-1zM2307 646h1v1h-1zM2310 646h1v1h-1zM2313 646h1v1h-1zM2316 646h1v1h-1zM2319 646h1v1h-1zM2322 646h1v1h-1zM2325 646h1v1h-1zM2328 646h1v1h-1zM2331 646h1v1h-1zM2334 646h1v1h-1zM2337 646h1v1h-1zM2340 646h1v1h-1zM2343 646h1v1h-1zM2346 646h1v1h-1zM2349 646h1v1h-1zM2352 646h1v1h-1zM2355 646h1v1h-1zM2358 646h1v1h-1zM2361 646h1v1h-1zM2364 646h1v1h-1zM2367 646h1v1h-1zM2370 646h1v1h-1zM2373 646h1v1h-1zM2376 646h1v1h-1zM2379 646h1v1h-1zM2382 646h1v1h-1zM2385 646h1v1h-1z"/></svg>
<div class="pl" style="top:23.0px">6,900.00</div><div class="pl" style="top:69.0px">6,896.00</div><div class="pl" style="top:115.0px">6,892.00</div><div class="pl" style="top:161.0px">6,888.00</div><div class="pl" style="top:207.0px">6,884.00</div><div class="pl" style="top:253.0px">6,880.00</div><div class="pl" style="top:299.0px">6,876.00</div><div class="pl" style="top:345.0px">6,872.00</div><div class="pl" style="top:391.0px">6,868.00</div><div class="pl" style="top:437.0px">6,864.00</div><div class="pl" style="top:483.0px">6,860.00</div><div class="pl" style="top:529.0px">6,856.00</div><div class="pl" style="top:575.0px">6,852.00</div><div class="pl" style="top:621.0px">6,848.00</div><div class="pl" style="top:667.0px">6,844.00</div><div class="pl" style="top:712.0px">6,840.00</div><div class="pl" style="top:758.0px">6,836.00</div><div class="pl" style="top:804.0px">6,832.00</div><div class="pl" style="top:850.0px">6,828.00</div><div class="pl" style="top:896.0px">6,824.00</div><div class="pl" style="top:942.0px">6,820.00</div><div class="pl" style="top:988.0px">6,816.00</div><div class="pl" style="top:1034.0px">6,812.00</div><div class="pl" style="top:1080.0px">6,808.00</div>
<div class="tl" style="left:2.5px">8</div><div class="tl" style="left:91.5px">22:45</div><div class="tl" style="left:181.5px">23:00</div><div class="tl" style="left:270.5px">23:15</div><div class="tl" style="left:359.5px">23:30</div><div class="tl" style="left:448.5px">23:45</div><div class="tl" style="left:538.5px">9</div><div class="tl" style="left:627.5px">00:15</div><div class="tl" style="left:716.5px">00:30</div><div class="tl" style="left:806.5px">00:45</div><div class="tl" style="left:895.5px">01:00</div><div class="tl" style="left:984.5px">01:15</div><div class="tl" style="left:1073.5px">01:30</div><div class="tl" style="left:1163.5px">01:45</div><div class="tl" style="left:1252.5px">02:00</div><div class="tl" style="left:1341.5px">02:15</div><div class="tl" style="left:1431.5px">02:30</div><div class="tl" style="left:1520.5px">02:45</div><div class="tl" style="left:1609.5px">03:00</div><div class="tl" style="left:1698.5px">03:15</div><div class="tl" style="left:1788.5px">03:30</div><div class="tl" style="left:1877.5px">03:45</div><div class="tl" style="left:1966.5px">04:00</div><div class="tl" style="left:2056.5px">04:15</div><div class="tl" style="left:2145.5px">04:30</div><div class="tl" style="left:2234.5px">04:45</div><div class="tl" style="left:2323.5px">05:00</div>
<div style="position:absolute;left:2388px;top:638px;width:60px;height:17px;background:#f23645;border-radius:0 2px 2px 0"></div>
<div class="pl" style="top:638px;line-height:17px;color:#fff;left:2380.5px">6,846.50</div>
<div class="hd" style="left:9px;top:7px;width:18px;height:18px;border-radius:50%;background:#c8102e;color:#fff;font-size:8.6px;font-weight:bold;line-height:18px;text-align:center;letter-spacing:-0.2px">500</div>
<div class="hd" id="title" style="left:31px;top:6px;font-size:16.2px;line-height:20px;color:#131722;letter-spacing:0px;transform-origin:0 0;transform:scaleX(0.89)">S&amp;P 500 Index · 1 · SPCFD</div>
<div class="hd" style="left:217px;top:7px;width:40px;height:18px;border-radius:9px;overflow:hidden;background:#f0f0f0">
  <div style="position:absolute;left:20px;top:0;width:20px;height:18px;background:#f2b8cf"></div>
  <div style="position:absolute;left:6px;top:7px;width:10px;height:4px;border-radius:2px;background:#9a9a9a"></div>
  <svg style="position:absolute;left:23px;top:1px" width="12" height="14" viewBox="0 0 12 14"><path d="M2.2 5.4c1.3-1.3 2.5-1.3 3.8 0s2.5 1.3 3.8 0M2.2 9.6c1.3-1.3 2.5-1.3 3.8 0s2.5 1.3 3.8 0" fill="none" stroke="#d81b60" stroke-width="1.7" stroke-linecap="round"/></svg>
</div>
<div class="hd oh" style="left:265px">O</div><div class="hd oh r" style="left:275px">6,847.68</div>
<div class="hd oh" style="left:331px">H</div><div class="hd oh r" style="left:341px">6,847.68</div>
<div class="hd oh" style="left:397px">L</div><div class="hd oh r" style="left:405px">6,846.50</div>
<div class="hd oh" style="left:461px">C</div><div class="hd oh r" style="left:470px">6,846.50</div>
<div class="hd oh r" style="left:526px">−1.33</div><div class="hd oh r" style="left:564px;letter-spacing:-0.5px">(−0.02%)</div>
<div class="hd" style="left:8px;top:32px;width:71px;height:32px;border:1px solid #f23645;border-radius:6px;background:#fff;color:#f23645;text-align:center">
 <div style="font-size:12.5px;line-height:14px;margin-top:2px;letter-spacing:0.3px">6,846.50</div><div style="font-size:10.5px;line-height:12px;margin-top:1px">SELL</div></div>
<div class="hd" style="left:89px;top:44px;font-size:10.3px;line-height:12px;letter-spacing:0px">0.00</div>
<div class="hd" style="left:116px;top:32px;width:71px;height:32px;border:1px solid #2962ff;border-radius:6px;background:#fff;color:#2962ff;text-align:center">
 <div style="font-size:12.5px;line-height:14px;margin-top:2px;letter-spacing:0.3px">6,846.50</div><div style="font-size:10.5px;line-height:12px;margin-top:1px">BUY</div></div>
<div class="hd" style="left:10px;top:1096px;width:162px;height:19px;background:#fff"></div>
<svg class="hd" style="left:0;top:1090px" width="50" height="30" viewBox="0 0 50 30"><path fill="#131722" d="M12 8h12v15h-6v-9h-6z"/><circle fill="#131722" cx="29.1" cy="10.8" r="3"/><path fill="#131722" d="M34.3 8h7.7l-6 15h-7z"/></svg>
<div class="hd" style="left:49px;top:1094px;font-size:21px;line-height:24px;font-weight:bold;color:#131722;letter-spacing:-0.25px">TradingView</div>
<svg class="hd" style="left:2342px;top:1103px" width="24" height="24" viewBox="0 0 24 24"><circle cx="11.5" cy="11.5" r="9.5" fill="#fff" stroke="#9c27b0" stroke-width="1.6"/><path d="M14.9 6 L7.1 11.9 L11.2 11.9 L8.1 17 L15.9 11.1 L11.8 11.1 Z" fill="#9c27b0"/></svg>
<div class="hd" style="left:2407px;top:1125px;font-size:18.5px;line-height:24px;color:rgba(0,0,0,0.23);letter-spacing:0.5px">Activa</div>
<svg class="hd" style="left:2412.5px;top:1133px" width="17" height="17" viewBox="0 0 17 17"><path d="M4 2.5h7.6l3.6 6-3.6 5.9h-7.6l-3.4-5.9z" fill="none" stroke="#131722" stroke-width="1.2"/><circle cx="8" cy="8.4" r="2.2" fill="none" stroke="#131722" stroke-width="1.2"/></svg>
</body></html>
